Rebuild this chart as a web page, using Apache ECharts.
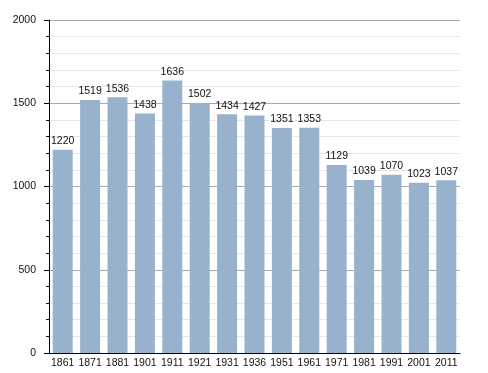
<!DOCTYPE html>
<html><head><meta charset="utf-8">
<script src="https://cdn.jsdelivr.net/npm/echarts@6/dist/echarts.min.js"></script>
<style>html,body{margin:0;padding:0;background:#fff}#c{width:488px;height:373px}</style>
</head><body><div id="c"></div>
<script>
const categories = ['1861','1871','1881','1901','1911','1921','1931','1936','1951','1961','1971','1981','1991','2001','2011'];
const population = [1220,1519,1536,1438,1636,1502,1434,1427,1351,1353,1129,1039,1070,1023,1037];
const yTicks = [0,500,1000,1500,2000];

const font = 'Liberation Sans, Arial, sans-serif';
const chart = echarts.init(document.getElementById('c'), null, {renderer:'canvas'});
chart.setOption({
  animation:false,
  grid:{left:49,right:28,top:20,bottom:20},
  xAxis:{
    type:'category', data:categories,
    axisLine:{lineStyle:{color:'#000',width:1}},
    axisTick:{show:false},
    axisLabel:{color:'#111',fontFamily:font,fontSize:10.5,margin:5,interval:0}
  },
  yAxis:{
    type:'value', min:yTicks[0], max:yTicks[yTicks.length-1], interval:500,
    axisLine:{show:true,lineStyle:{color:'#000',width:1}},
    axisTick:{show:true,inside:false,length:5,lineStyle:{color:'#000'}},
    minorTick:{show:true,splitNumber:5,length:3,lineStyle:{color:'#000'}},
    splitLine:{show:true,lineStyle:{color:'#aaa',width:1}},
    minorSplitLine:{show:true,lineStyle:{color:'#e6e6e6',width:1}},
    axisLabel:{color:'#111',fontFamily:font,fontSize:10.5,margin:13,formatter:v=>String(v)}
  },
  series:[{
    type:'bar', data:population, barWidth:20,
    itemStyle:{color:'#98b1cd'},
    label:{show:true,position:'top',distance:3,color:'#111',fontFamily:font,fontSize:10.5}
  }]
});
</script></body></html>
